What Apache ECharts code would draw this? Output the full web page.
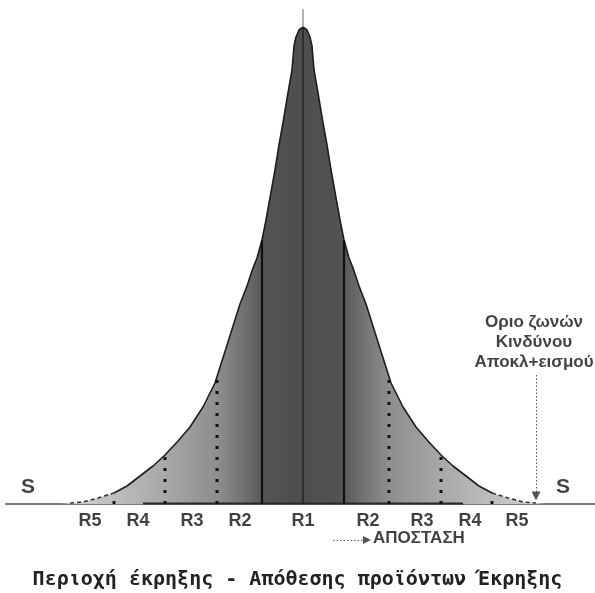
<!DOCTYPE html>
<html>
<head>
<meta charset="utf-8">
<script src="https://cdn.jsdelivr.net/npm/echarts@6/dist/echarts.min.js"></script>
<style>html,body{margin:0;padding:0;background:#fff}#c{width:595px;height:593px}</style>
</head>
<body>
<div id="c"></div>
<script>
// distance from the centre of the explosion vs. height of the deposit profile
const dist   = [0,   4,   7,   9,   11,  15,  19.5, 24,  28,  32.5, 37,  41,  46,  50,  56,  63,  75,  88,  100, 113, 125, 138, 150, 163, 176, 189, 205, 220, 233, 242];
const height = [477, 474, 467, 458, 434, 411, 384,  359, 334, 309,  284, 264, 246, 236, 218, 200, 162, 121, 97,  77,  63,  49,  38,  28,  18,  11,  6,   2,   1,   0];
// zone boundaries (distance)
const solidBounds  = [41];
const dottedBounds = [86, 138, 189];
const tailStart = 189, tailEnd = 233;
// zone labels
const zoneLabels = ['R5','R4','R3','R2','R1','R2','R3','R4','R5'];
const zonePos    = [-213, -165, -111, -63, 0, 65, 119, 167, 214];
const sideLabel = 'S';
const sidePos = [-275, 260];
const noteLines = ['Οριο ζωνών', 'Κινδύνου', 'Αποκλ+εισμού'];
const axisText = 'ΑΠΟΣΤΑΣΗ';
const titleText = 'Περιοχή έκρηξης - Απόθεσης προϊόντων Έκρηξης';

function hAt(d){
  const a = Math.abs(d);
  for (let i=0;i<dist.length-1;i++){
    if (a>=dist[i] && a<=dist[i+1]){
      const t=(a-dist[i])/(dist[i+1]-dist[i]);
      return height[i]+t*(height[i+1]-height[i]);
    }
  }
  return 0;
}
const full = [];
for (let i=dist.length-1;i>0;i--) full.push([-dist[i], height[i]]);
for (let i=0;i<dist.length;i++) full.push([dist[i], height[i]]);
const inner = full.filter(p => Math.abs(p[0]) <= tailStart);
const leftTail = full.filter(p => p[0] <= -tailStart && p[0] >= -tailEnd);
const rightTail = full.filter(p => p[0] >= tailStart && p[0] <= tailEnd);

const maxD = dist[dist.length-1];
function stop(d){ return (d+maxD)/(2*maxD); }
const grad = {type:'linear', x:0, y:0, x2:1, y2:0, colorStops:[
  {offset:stop(-242), color:'#d4d4d4'},
  {offset:stop(-189), color:'#bebebe'},
  {offset:stop(-138), color:'#a8a8a8'},
  {offset:stop(-86),  color:'#8e8e8e'},
  {offset:stop(-60),  color:'#727272'},
  {offset:stop(-42),  color:'#5a5a5a'},
  {offset:stop(-38),  color:'#535353'},
  {offset:stop(0),    color:'#4e4e4e'},
  {offset:stop(38),   color:'#535353'},
  {offset:stop(42),   color:'#5a5a5a'},
  {offset:stop(60),   color:'#727272'},
  {offset:stop(86),   color:'#8e8e8e'},
  {offset:stop(138),  color:'#a8a8a8'},
  {offset:stop(189),  color:'#bebebe'},
  {offset:stop(242),  color:'#d4d4d4'}
]};

const series = [];
series.push({type:'line', data:[[-298,0],[292,0]], symbol:'none', lineStyle:{color:'#7a7a7a', width:2}, z:1});
series.push({type:'line', data:full, smooth:false, symbol:'none',
  lineStyle:{width:0, opacity:0}, areaStyle:{color:grad, opacity:1}, z:2});
series.push({type:'line', data:inner, smooth:false, symbol:'none',
  lineStyle:{color:'#1e1e1e', width:1.6, join:'round'}, z:4});
[leftTail, rightTail].forEach(t => series.push({type:'line', data:t, smooth:false, symbol:'none',
  lineStyle:{color:'#333', width:1.6, type:[4,3]}, z:4}));
series.push({type:'line', data:[[-160,0.5],[160,0.5]], symbol:'none', lineStyle:{color:'#2a2a2a', width:2}, z:4});
// centre line + tick above peak
series.push({type:'line', data:[[0,0],[0,hAt(0)]], symbol:'none', lineStyle:{color:'#1a1a1a', width:1.2}, z:5});
series.push({type:'line', data:[[0,hAt(0)],[0,hAt(0)+18]], symbol:'none', lineStyle:{color:'#9a9a9a', width:1.5}, z:5});
solidBounds.forEach(b => [-b,b].forEach(x => series.push({type:'line', data:[[x,0],[x,hAt(x)]], symbol:'none',
  lineStyle:{color:'#111', width:2.2}, z:5})));
dottedBounds.forEach(b => [-b,b].forEach(x => series.push({type:'line', data:[[x,0],[x,hAt(x)]], symbol:'none',
  lineStyle:{color:'#111', width:3, type:[3,8], cap:'butt'}, z:5})));
// zone labels
series.push({type:'scatter', symbolSize:0, itemStyle:{color:'transparent'}, z:6,
  data: zonePos.map((p,i)=>({value:[p,-17], name:zoneLabels[i]})),
  label:{show:true, position:'inside', formatter:p=>p.name, color:'#111',
    fontFamily:'Liberation Sans', fontWeight:'bold', fontSize:18}});
series.push({type:'scatter', symbolSize:0, itemStyle:{color:'transparent'}, z:6,
  data: sidePos.map(p=>({value:[p,17], name:sideLabel})),
  label:{show:true, position:'inside', formatter:p=>p.name, color:'#111',
    fontFamily:'Liberation Sans', fontWeight:'bold', fontSize:21}});
series.push({type:'scatter', symbolSize:0, itemStyle:{color:'transparent'}, z:6,
  data:[{value:[231,162], name:noteLines.join('\n')}],
  label:{show:true, position:'inside', formatter:p=>p.name, color:'#111', lineHeight:20, align:'center',
    fontFamily:'Liberation Sans', fontWeight:'bold', fontSize:17}});
series.push({type:'scatter', symbolSize:0, itemStyle:{color:'transparent'}, z:6,
  data:[{value:[70,-36], name:axisText}],
  label:{show:true, position:[0,-10], align:'left', formatter:p=>p.name, color:'#111',
    fontFamily:'Liberation Sans', fontWeight:'bold', fontSize:17}});
// arrows
series.push({type:'line', data:[], z:6, markLine:{silent:true, animation:false, label:{show:false},
  data:[
    [{coord:[233,129], symbol:'none'},{coord:[233,8], symbol:'triangle', symbolSize:[9,9]}],
    [{coord:[30,-36], symbol:'none'},{coord:[64,-36], symbol:'triangle', symbolSize:[8,8]}]
  ],
  lineStyle:{color:'#555', width:1, type:[1.5,2]}, itemStyle:{color:'#111'}}});

const chart = echarts.init(document.getElementById('c'));
chart.setOption({
  animation:false,
  title:{text:titleText, left:'center', top:565, textStyle:{fontFamily:'DejaVu Sans Mono', fontWeight:'bold', fontSize:20, color:'#222'}},
  grid:{left:0, right:0, top:0, bottom:0},
  xAxis:{type:'value', min:-303, max:292, show:false},
  yAxis:{type:'value', min:-89, max:504, show:false},
  series
});
</script>
</body>
</html>
